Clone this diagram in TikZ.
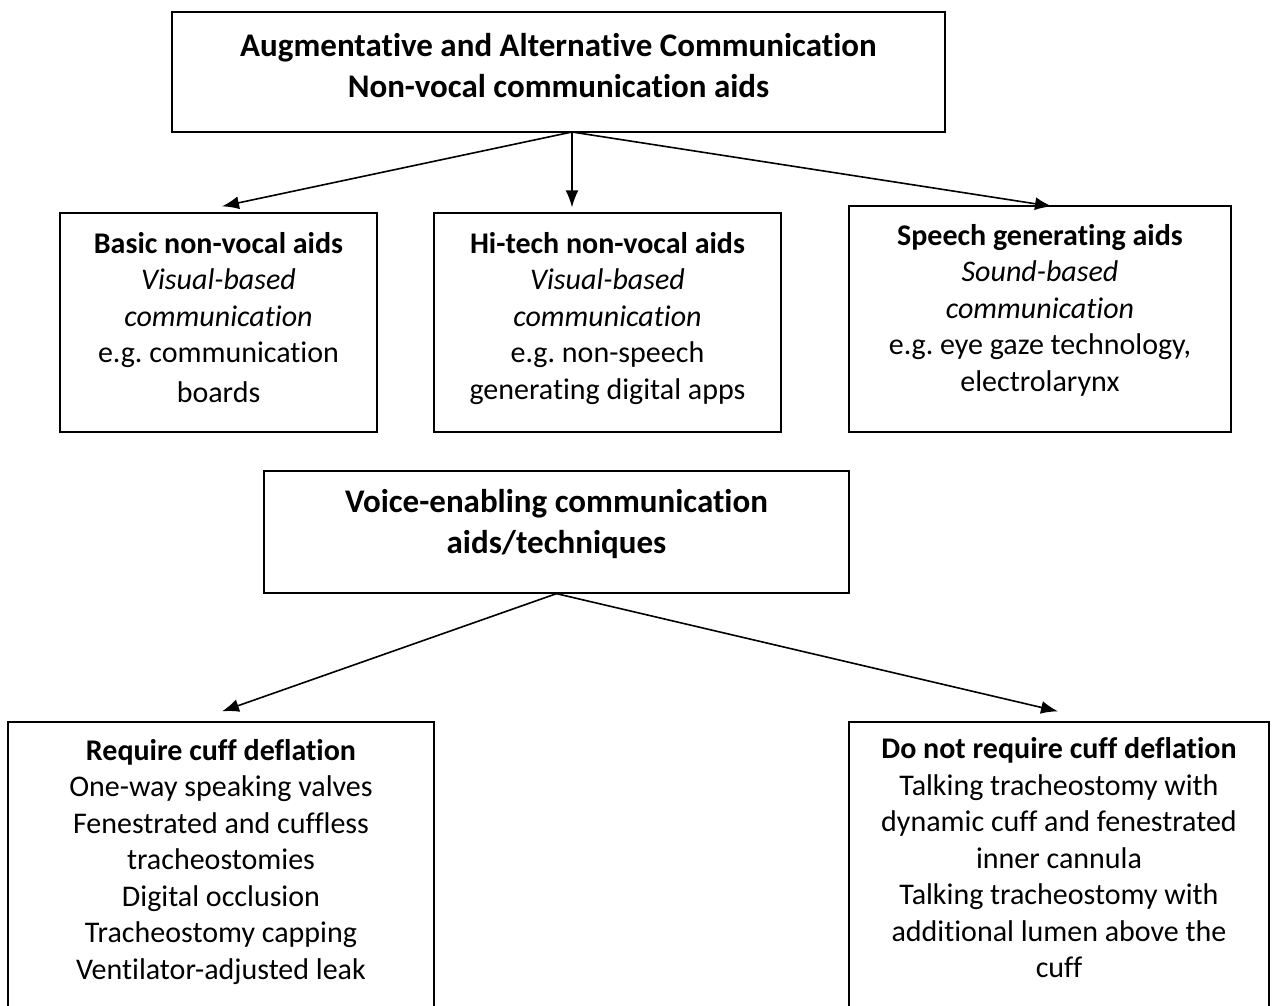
\documentclass[tikz,border=0pt]{standalone}
\usepackage{fontspec}
\setmainfont[Ligatures=CommonOff]{Carlito}
\usetikzlibrary{arrows.meta,positioning,calc}

\begin{document}
\begin{tikzpicture}[x=1pt, y=-1pt,
    every node/.style={font=\fontsize{30}{36.5}\selectfont},
    box/.style={draw, line width=1.3pt, inner sep=0pt},
    txt/.style={align=center, inner sep=0pt},
    head/.style={txt, font=\fontsize{33}{41}\selectfont\bfseries},
    conn/.style={-{Latex[length=17pt,width=13pt]}, line width=1.6pt}]
        \useasboundingbox (0,0) rectangle (1272,1006);
        \clip (0,0) rectangle (1272,1006);

        % Top level
        \node[box, minimum width=773pt, minimum height=120pt] (aac) at (558.5,72) {};
        \node[head, yshift=6pt] (aactxt) at (aac)
            {Augmentative and Alternative Communication\\Non-vocal communication aids};

        % Non-vocal aids
        \node[box, minimum width=317pt, minimum height=219pt] (basic) at (218.5,322.5) {};
        \node[txt, yshift=5pt] (basictxt) at (basic)
            {\textbf{Basic non-vocal aids}\\\textit{Visual-based}\\\textit{communication}\\e.g.\ communication\\[3pt]boards};
        \node[box, minimum width=347pt, minimum height=219pt] (hitech) at (607.5,322.5) {};
        \node[txt, yshift=4pt] (hitechtxt) at (hitech)
            {\textbf{Hi-tech non-vocal aids}\\\textit{Visual-based}\\\textit{communication}\\e.g.\ non-speech\\generating digital apps};
        \node[box, minimum width=382pt, minimum height=226pt] (speech) at (1040,319) {};
        \node[txt, yshift=9pt] (speechtxt) at (speech)
            {\textbf{Speech generating aids}\\\textit{Sound-based}\\\textit{communication}\\e.g.\ eye gaze technology,\\electrolarynx};

        % Voice-enabling aids
        \node[box, minimum width=585pt, minimum height=122pt] (voice) at (556.5,532) {};
        \node[head, yshift=8pt] (voicetxt) at (voice)
            {Voice-enabling communication\\aids/techniques};
        \node[box, minimum width=426pt, minimum height=290pt] (deflate) at (221,867) {};
        \node[txt, yshift=5pt] (deflatetxt) at (deflate)
            {\textbf{Require cuff deflation}\\One-way speaking valves\\Fenestrated and cuffless\\tracheostomies\\Digital occlusion\\Tracheostomy capping\\Ventilator-adjusted leak};
        \node[box, minimum width=420pt, minimum height=290pt] (nodeflate) at (1059,867) {};
        \node[txt, yshift=9pt] (nodeflatetxt) at (nodeflate)
            {\textbf{Do not require cuff deflation}\\Talking tracheostomy with\\dynamic cuff and fenestrated\\inner cannula\\Talking tracheostomy with\\additional lumen above the\\cuff};

        % Connections
        \coordinate (fork) at (572,132);
        \draw[conn] (fork) -- ($(basic.north)+(3.5,-6)$);
        \draw[conn] (fork) -- ($(fork |- hitech.north)+(0,-5)$);
        \draw[conn] (fork) -- ($(speech.north)+(12,1)$);
        \draw[conn] (voice.south) -- ($(deflate.north)+(1,-10)$);
        \draw[conn] (voice.south) -- ($(nodeflate.north)+(-1,-10)$);
\end{tikzpicture}
\end{document}
